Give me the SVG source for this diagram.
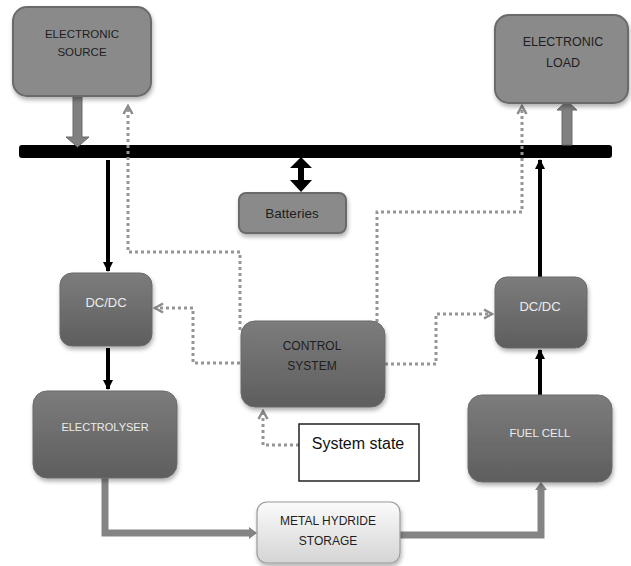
<svg xmlns="http://www.w3.org/2000/svg" width="631" height="566" viewBox="0 0 631 566">
<style>
.t{font-family:"Liberation Sans",Arial,sans-serif;text-anchor:middle}
.dk{fill:#1e1e1e}
.lt{fill:#ececec}
.box1{fill:#8a8a8a;stroke:#6b6b6b;stroke-width:2}
.box2{fill:url(#g2);stroke:#6a6a6a;stroke-width:1}
.dot{fill:none;stroke:#969696;stroke-width:3;stroke-dasharray:3 3}
.blk{fill:none;stroke:#000;stroke-width:4}
.gr{fill:#808080;stroke:#6a6a6a;stroke-width:1}
.gline{fill:none;stroke:#848484;stroke-width:7}
</style>
<defs>
<linearGradient id="g2" x1="0" y1="0" x2="0" y2="1">
<stop offset="0" stop-color="#7c7c7c"/>
<stop offset="1" stop-color="#5e5e5e"/>
</linearGradient>
<linearGradient id="g3" x1="0" y1="0" x2="0" y2="1">
<stop offset="0" stop-color="#fbfbfb"/>
<stop offset="1" stop-color="#d4d4d4"/>
</linearGradient>
<filter id="sh" x="-10%" y="-10%" width="130%" height="130%">
<feDropShadow dx="1" dy="3" stdDeviation="2" flood-color="#000" flood-opacity="0.3"/>
</filter>
<marker id="ab" viewBox="0 0 10 10" refX="9" refY="5" markerWidth="2.6" markerHeight="2.6" orient="auto">
<path d="M0,0 L10,5 L0,10 z" fill="#000"/>
</marker>
<marker id="cv" viewBox="0 0 12 12" refX="10" refY="6" markerWidth="12" markerHeight="12" orient="auto" markerUnits="userSpaceOnUse">
<path d="M2,1.5 L10,6 L2,10.5" fill="none" stroke="#8c8c8c" stroke-width="2.5"/>
</marker>
</defs>

<g id="connectors">
<rect x="19" y="145" width="593" height="13" rx="3" fill="#000"/>
<polygon class="gr" points="73,96 82,96 82,137 89,137 77.5,147 66,137 73,137"/>
<polygon class="gr" points="562,145 572,145 572,110 577,110 567,101 557,110 562,110"/>
<polygon fill="#000" points="301,157 312,168 304,168 304,180 312,180 301,192 290,180 298,180 298,168 290,168"/>
<path class="blk" d="M108,160 V271" marker-end="url(#ab)"/>
<path class="blk" d="M108,348 V389" marker-end="url(#ab)"/>
<path class="blk" d="M540,395 V350" marker-end="url(#ab)"/>
<path class="blk" d="M540,277 V160" marker-end="url(#ab)"/>
<path class="gline" d="M105,478 V533 H250"/>
<polygon fill="#848484" points="249,527 257,533 249,539"/>
<path class="gline" d="M400,535 H541 V490"/>
<polygon fill="#848484" points="535,490 541,482 547,490"/>
<path class="dot" d="M240,330 V252 H128 V106" marker-end="url(#cv)"/>
<path class="dot" d="M377,322 V212 H522 V106" marker-end="url(#cv)"/>
<path class="dot" d="M240,363 H193 V308 H155" marker-end="url(#cv)"/>
<path class="dot" d="M385,364 H436 V314 H492" marker-end="url(#cv)"/>
<path class="dot" d="M299,445 H263 V411" marker-end="url(#cv)"/>
</g>

<g id="electronic-source">
<rect class="box1" x="13" y="7" width="138" height="89" rx="14" filter="url(#sh)"/>
<text class="t dk" x="82" y="38" font-size="11.5">ELECTRONIC</text>
<text class="t dk" x="82" y="56" font-size="11.5">SOURCE</text>
</g>

<g id="electronic-load">
<rect class="box1" x="495" y="15" width="133" height="88" rx="14" filter="url(#sh)"/>
<text class="t dk" x="563" y="46" font-size="12.5">ELECTRONIC</text>
<text class="t dk" x="563" y="67" font-size="12.5">LOAD</text>
</g>

<g id="batteries">
<rect class="box1" x="239" y="193" width="107" height="40" rx="7" filter="url(#sh)"/>
<text class="t dk" x="292" y="218" font-size="13.5">Batteries</text>
</g>

<g id="dcdc-left">
<rect class="box2" x="60" y="273" width="92" height="73" rx="12" filter="url(#sh)"/>
<text class="t lt" x="106" y="307" font-size="13">DC/DC</text>
</g>

<g id="dcdc-right">
<rect class="box2" x="495" y="277" width="92" height="71" rx="12" filter="url(#sh)"/>
<text class="t lt" x="540" y="311" font-size="13">DC/DC</text>
</g>

<g id="control-system">
<rect class="box2" x="241" y="321" width="144" height="86" rx="14" filter="url(#sh)"/>
<text class="t dk" x="312" y="350" font-size="12">CONTROL</text>
<text class="t dk" x="312" y="370" font-size="12">SYSTEM</text>
</g>

<g id="system-state">
<rect x="299" y="424" width="120" height="57" fill="#fff" stroke="#222" stroke-width="1.5"/>
<text class="t" x="358" y="449" font-size="16" fill="#111">System state</text>
</g>

<g id="electrolyser">
<rect class="box2" x="33" y="391" width="144" height="87" rx="14" filter="url(#sh)"/>
<text class="t lt" x="105" y="431" font-size="11">ELECTROLYSER</text>
</g>

<g id="fuel-cell">
<rect class="box2" x="468" y="395" width="144" height="87" rx="14" filter="url(#sh)"/>
<text class="t lt" x="540" y="437" font-size="11.5">FUEL CELL</text>
</g>

<g id="metal-hydride">
<rect x="257" y="502" width="143" height="61" rx="10" fill="url(#g3)" stroke="#9a9a9a" stroke-width="1.2" filter="url(#sh)"/>
<text class="t dk" x="328" y="525" font-size="12">METAL HYDRIDE</text>
<text class="t dk" x="328" y="545" font-size="12">STORAGE</text>
</g>
</svg>
